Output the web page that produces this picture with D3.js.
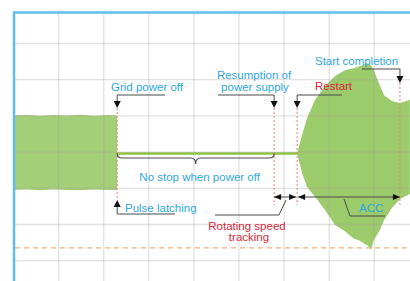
<!DOCTYPE html>
<html>
<head>
<meta charset="utf-8">
<script src="https://cdn.jsdelivr.net/npm/d3@7"></script>
<style>
  body { margin: 0; background: #fff; }
  text { font-family: "Liberation Sans", Arial, sans-serif; font-size: 11.5px; }
  .grid line { stroke: #a89c9c; stroke-opacity: 0.3; stroke-width: 1.3; }
  .grid .domain, .grid text { display: none; }
</style>
</head>
<body>
<div id="chart-area"></div>
<script>

// Data (time in grid divisions, amplitude in grid divisions)
let gridT = [1, 2, 3, 4, 5, 6, 7, 8, 9];
let gridA = [-3, -2, -1, 0, 1, 2, 3];

// running before power loss
let blockT      = [0, 0.3, 0.6, 0.9, 1.2, 1.5, 1.8, 2.1, 2.31];
let blockTop    = [1.0, 1.02, 0.99, 1.01, 1.0, 1.02, 0.99, 1.01, 1.0];
let blockBottom = [-1.06, -1.05, -1.07, -1.05, -1.06, -1.07, -1.05, -1.06, -1.06];

// coasting, no output
let idleT = [2.31, 6.32];
let idleA = -0.05;

// restart envelope
let restartT      = [6.30, 6.41, 6.52, 6.70, 6.92, 7.14, 7.36, 7.55, 7.69, 7.80, 7.87, 7.94, 8.00, 8.12, 8.23, 8.40, 8.58, 8.80];
let restartTop    = [-0.05, 0.46, 0.93, 1.43, 1.81, 2.09, 2.25, 2.30, 2.36, 2.42, 2.44, 2.38, 2.25, 1.87, 1.56, 1.40, 1.34, 1.43];
let restartBottom = [-0.05, -0.59, -0.98, -1.25, -1.62, -2.03, -2.20, -2.40, -2.46, -2.55, -2.60, -2.72, -2.44, -2.20, -1.89, -1.56, -1.31, -1.17];

// reference level (dashed)
let refLevel = -2.66;

// event times
let eventLabels = ["Grid power off", "Resumption of power supply", "Restart", "Start completion"];
let eventT = [2.31, 5.79, 6.30, 8.58];


// SVG drawing area
let width = 410, height = 281;

let svg = d3.select("#chart-area").append("svg")
    .attr("width", width)
    .attr("height", height);

// Scales
let x = d3.scaleLinear().domain([0, 8]).range([13, 13 + 8 * 45.1]);
let y = d3.scaleLinear().domain([-3, 3]).range([260.2, 43]);

let green = "#a3cf78";
let blue = "#2ea8e0";
let red = "#d8283e";
let dark = "#4a4a4a";

// Waveforms
let area = d3.area()
    .x(d => x(d.t))
    .y0(d => y(d.lo))
    .y1(d => y(d.hi));

svg.append("path")
    .datum(blockT.map((t, i) => ({t: t, hi: blockTop[i], lo: blockBottom[i]})))
    .attr("d", area)
    .attr("fill", green);

svg.append("path")
    .datum(restartT.map((t, i) => ({t: t, hi: restartTop[i], lo: restartBottom[i]})))
    .attr("d", area)
    .attr("fill", "#9ccb6c");

svg.append("line")
    .attr("x1", x(idleT[0])).attr("x2", x(idleT[1]))
    .attr("y1", y(idleA)).attr("y2", y(idleA))
    .attr("stroke", "#8cc540")
    .attr("stroke-width", 2.5);

// Grid (axes with full-length ticks)
svg.append("g")
    .attr("class", "grid")
    .attr("transform", "translate(0," + height + ")")
    .call(d3.axisBottom(x).tickValues(gridT).tickSize(-(height - 13)));

svg.append("g")
    .attr("class", "grid")
    .attr("transform", "translate(14,0)")
    .call(d3.axisLeft(y).tickValues(gridA).tickSize(-(width - 14)));

// Reference level
svg.append("line")
    .attr("x1", 15).attr("x2", width)
    .attr("y1", y(refLevel)).attr("y2", y(refLevel))
    .attr("stroke", "#f5b07a")
    .attr("stroke-width", 1.2)
    .attr("stroke-dasharray", "5,4");

// Frame
svg.append("path")
    .attr("d", "M14," + height + "V12.5H" + width)
    .attr("fill", "none")
    .attr("stroke", "#62bce9")
    .attr("stroke-width", 2.5);

// Event markers (dotted)
let markTop = [108, 108, 108, 83];
svg.selectAll(".marker")
    .data(eventT)
    .enter().append("line")
    .attr("class", "marker")
    .attr("x1", d => x(d)).attr("x2", d => x(d))
    .attr("y1", (d, i) => markTop[i])
    .attr("y2", (d, i) => i == 0 ? 200 : 205)
    .attr("stroke", "#ef7f7f")
    .attr("stroke-width", 1)
    .attr("stroke-dasharray", "2,2");

// helpers
function leader(pts) {
  svg.append("path")
      .attr("d", d3.line()(pts))
      .attr("fill", "none")
      .attr("stroke", dark)
      .attr("stroke-width", 1);
}
function arrowV(xp, tip, dir) {
  // dir 1 = pointing down, -1 = pointing up
  svg.append("path")
      .attr("d", "M" + (xp - 3.5) + "," + (tip - 7 * dir) + "L" + (xp + 3.5) + "," + (tip - 7 * dir) + "L" + xp + "," + tip + "Z")
      .attr("fill", "#111");
}
function arrowH(tip, yp, dir) {
  // dir 1 = pointing right, -1 = pointing left
  svg.append("path")
      .attr("d", "M" + (tip - 7 * dir) + "," + (yp - 3) + "L" + (tip - 7 * dir) + "," + (yp + 3) + "L" + tip + "," + yp + "Z")
      .attr("fill", "#111");
}
function label(txt, xp, yp, color, anchor) {
  svg.append("text")
      .attr("x", xp).attr("y", yp)
      .attr("fill", color)
      .attr("text-anchor", anchor || "start")
      .text(txt);
}

let e0 = x(eventT[0]), e1 = x(eventT[1]), e2 = x(eventT[2]), e3 = x(eventT[3]);

// Grid power off
leader([[165, 95], [e0, 95], [e0, 101]]);
arrowV(e0, 108, 1);
label(eventLabels[0], 111, 91, blue);

// Resumption of power supply
leader([[218, 95], [e1, 95], [e1, 101]]);
arrowV(e1, 108, 1);
label("Resumption of", 254, 79, blue, "middle");
label("power supply", 255, 91, blue, "middle");

// Restart
leader([[342, 95], [e2, 95], [e2, 101]]);
arrowV(e2, 108, 1);
label(eventLabels[2], 315, 90, red);

// Start completion
leader([[362, 69], [e3, 69], [e3, 76]]);
arrowV(e3, 83, 1);
label(eventLabels[3], 315, 65, blue);

// Pulse latching
arrowV(e0, 200, -1);
leader([[e0, 207], [e0, 214], [175, 214]]);
label("Pulse latching", 125, 212, blue);

// Brace: no stop when power off
let mid = (e0 + e1) / 2;
svg.append("path")
    .attr("d", "M" + e0 + ",153.5 Q" + e0 + ",158 " + (e0 + 5) + ",158 H" + (mid - 5) +
               " Q" + mid + ",158 " + mid + ",164 Q" + mid + ",158 " + (mid + 5) + ",158 H" + (e1 - 5) +
               " Q" + e1 + ",158 " + e1 + ",153.5")
    .attr("fill", "none")
    .attr("stroke", dark)
    .attr("stroke-width", 1.2);
label("No stop when power off", mid + 4, 181, blue, "middle");

// Rotating speed tracking / ACC spans
let spanY = 197;
svg.append("line").attr("x1", e1).attr("x2", e2 - 1).attr("y1", spanY).attr("y2", spanY)
    .attr("stroke", dark).attr("stroke-width", 1);
svg.append("line").attr("x1", e2 + 1).attr("x2", e3).attr("y1", spanY).attr("y2", spanY)
    .attr("stroke", dark).attr("stroke-width", 1);
arrowH(e1, spanY, -1);
arrowH(e2 - 1, spanY, 1);
arrowH(e2 + 1, spanY, -1);
arrowH(e3, spanY, 1);

leader([[286, 200], [279, 215], [215, 215]]);
label("Rotating speed", 247, 230, red, "middle");
label("tracking", 249, 241, red, "middle");

leader([[344, 199], [350, 216], [385, 216]]);
label("ACC", 359, 212, blue);

</script>
</body>
</html>
